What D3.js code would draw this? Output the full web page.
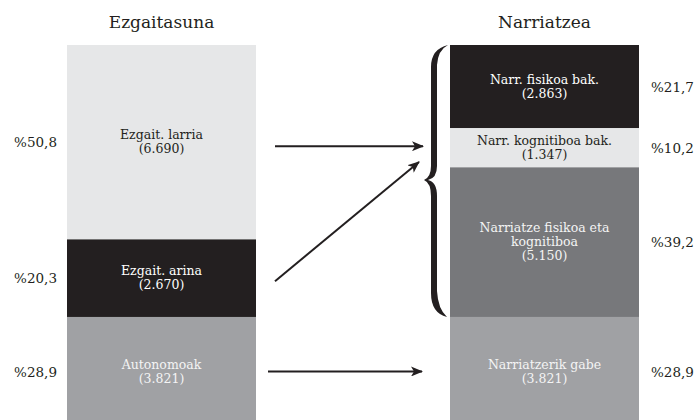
<!DOCTYPE html>
<html>
<head>
<meta charset="utf-8">
<script src="https://cdn.jsdelivr.net/npm/d3@7"></script>
<style>
body{margin:0;background:#fff;}
text{font-family:"DejaVu Serif",serif;}
</style>
</head>
<body>
<svg id="canvas" width="700" height="420"></svg>
<script>

// data
var titles=["Ezgaitasuna","Narriatzea"]

var left_labels=[["Ezgait. larria"],["Ezgait. arina"],["Autonomoak"]]
var left_values=[6690,2670,3821]
var left_pct=["%50,8","%20,3","%28,9"]

var right_labels=[["Narr. fisikoa bak."],["Narr. kognitiboa bak."],["Narriatze fisikoa eta","kognitiboa"],["Narriatzerik gabe"]]
var right_values=[2863,1347,5150,3821]
var right_pct=["%21,7","%10,2","%39,2","%28,9"]

var left_colors=["#e6e7e8","#231f20","#a0a1a4"]
var right_colors=["#231f20","#e6e7e8","#77787b","#a0a1a4"]
var text_colors={"#e6e7e8":"#231f20","#231f20":"#ffffff","#77787b":"#f4f4f4","#a0a1a4":"#f4f4f4"}

function fmt(v){
    return "("+d3.format(",")(v).replace(",",".")+")"
}

var canvas=d3.select("#canvas")

var total=d3.sum(left_values)

var col_w=189
var y=d3.scaleLinear()
    .domain([0,total])
    .range([45,428])

function stack(values){
    var acc=0
    return values.map(function(v,i){
        var s={i:i,v:v,y0:acc,y1:acc+v}
        acc=acc+v
        return s
    })
}

var columns=[
    {x:67,segs:stack(left_values),labels:left_labels,colors:left_colors,pct:left_pct,side:"left"},
    {x:450,segs:stack(right_values),labels:right_labels,colors:right_colors,pct:right_pct,side:"right"}
]

columns.forEach(function(col,c){

    // title
    canvas.append("text")
        .attr("x",col.x+col_w/2)
        .attr("y",28)
        .attr("text-anchor","middle")
        .style("font-size","17px")
        .style("fill","#231f20")
        .text(titles[c])

    var g=canvas.append("g")

    g.selectAll("rect")
        .data(col.segs)
        .enter()
        .append("rect")
        .attr("x",col.x)
        .attr("width",col_w)
        .attr("y",function(d){return y(d.y0)})
        .attr("height",function(d){return y(d.y1)-y(d.y0)})
        .style("fill",function(d){return col.colors[d.i]})

    col.segs.forEach(function(d){
        var mid=(y(d.y0)+y(d.y1))/2
        var lines=col.labels[d.i].concat([fmt(d.v)])
        var lh=14
        var t=g.append("text")
            .attr("text-anchor","middle")
            .style("font-size","12.5px")
            .style("fill",text_colors[col.colors[d.i]])
        lines.forEach(function(l,k){
            t.append("tspan")
                .attr("x",col.x+col_w/2)
                .attr("y",mid+(k-(lines.length-1)/2)*lh+4)
                .text(l)
        })

        // percentage
        canvas.append("text")
            .attr("x",col.side=="left"?57:651)
            .attr("y",mid+5)
            .attr("text-anchor",col.side=="left"?"end":"start")
            .style("font-size","13.5px")
            .style("fill","#231f20")
            .text(col.pct[d.i])
    })
})

// arrow head
canvas.append("defs").append("marker")
    .attr("id","head")
    .attr("viewBox","0 0 12 10")
    .attr("refX",11)
    .attr("refY",5)
    .attr("markerWidth",12)
    .attr("markerHeight",10)
    .attr("markerUnits","userSpaceOnUse")
    .attr("orient","auto")
    .append("path")
    .attr("d","M0,0 L12,5 L0,10 L3,5 Z")
    .style("fill","#231f20")

var ls=columns[0].segs
var mid0=(y(ls[0].y0)+y(ls[0].y1))/2
var mid1=(y(ls[1].y0)+y(ls[1].y1))/2
var mid2=(y(ls[2].y0)+y(ls[2].y1))/2

var arrows=[
    [275,mid0+4,423,mid0+4],
    [275,mid1+3,419,162],
    [268,mid2-1,422,mid2-1]
]

canvas.selectAll("line.arrow")
    .data(arrows)
    .enter()
    .append("line")
    .attr("class","arrow")
    .attr("x1",function(d){return d[0]})
    .attr("y1",function(d){return d[1]})
    .attr("x2",function(d){return d[2]})
    .attr("y2",function(d){return d[3]})
    .style("stroke","#231f20")
    .style("stroke-width",2)
    .attr("marker-end","url(#head)")

// curly brace over the three narriatze segments
var rs=columns[1].segs
var b_top=y(rs[0].y0)
var b_bot=y(rs[2].y1)
var b_mid=180
var d="M448,"+b_top
    +" Q431,"+(b_top+4)+" 431,"+(b_top+22)
    +" L431,"+(b_mid-14)
    +" Q431,"+(b_mid-3)+" 424,"+b_mid
    +" Q431,"+(b_mid+3)+" 431,"+(b_mid+16)
    +" L431,"+(b_bot-24)
    +" Q431,"+(b_bot-4)+" 447,"+b_bot
    +" Q438,"+(b_bot-8)+" 437,"+(b_bot-26)
    +" L437,"+(b_mid+16)
    +" Q437,"+(b_mid+2)+" 428,"+b_mid
    +" Q437,"+(b_mid-2)+" 437,"+(b_mid-14)
    +" L437,"+(b_top+20)
    +" Q438,"+(b_top+5)+" 448,"+b_top+" Z"

canvas.append("path")
    .attr("d",d)
    .style("fill","#231f20")

</script>
</body>
</html>
